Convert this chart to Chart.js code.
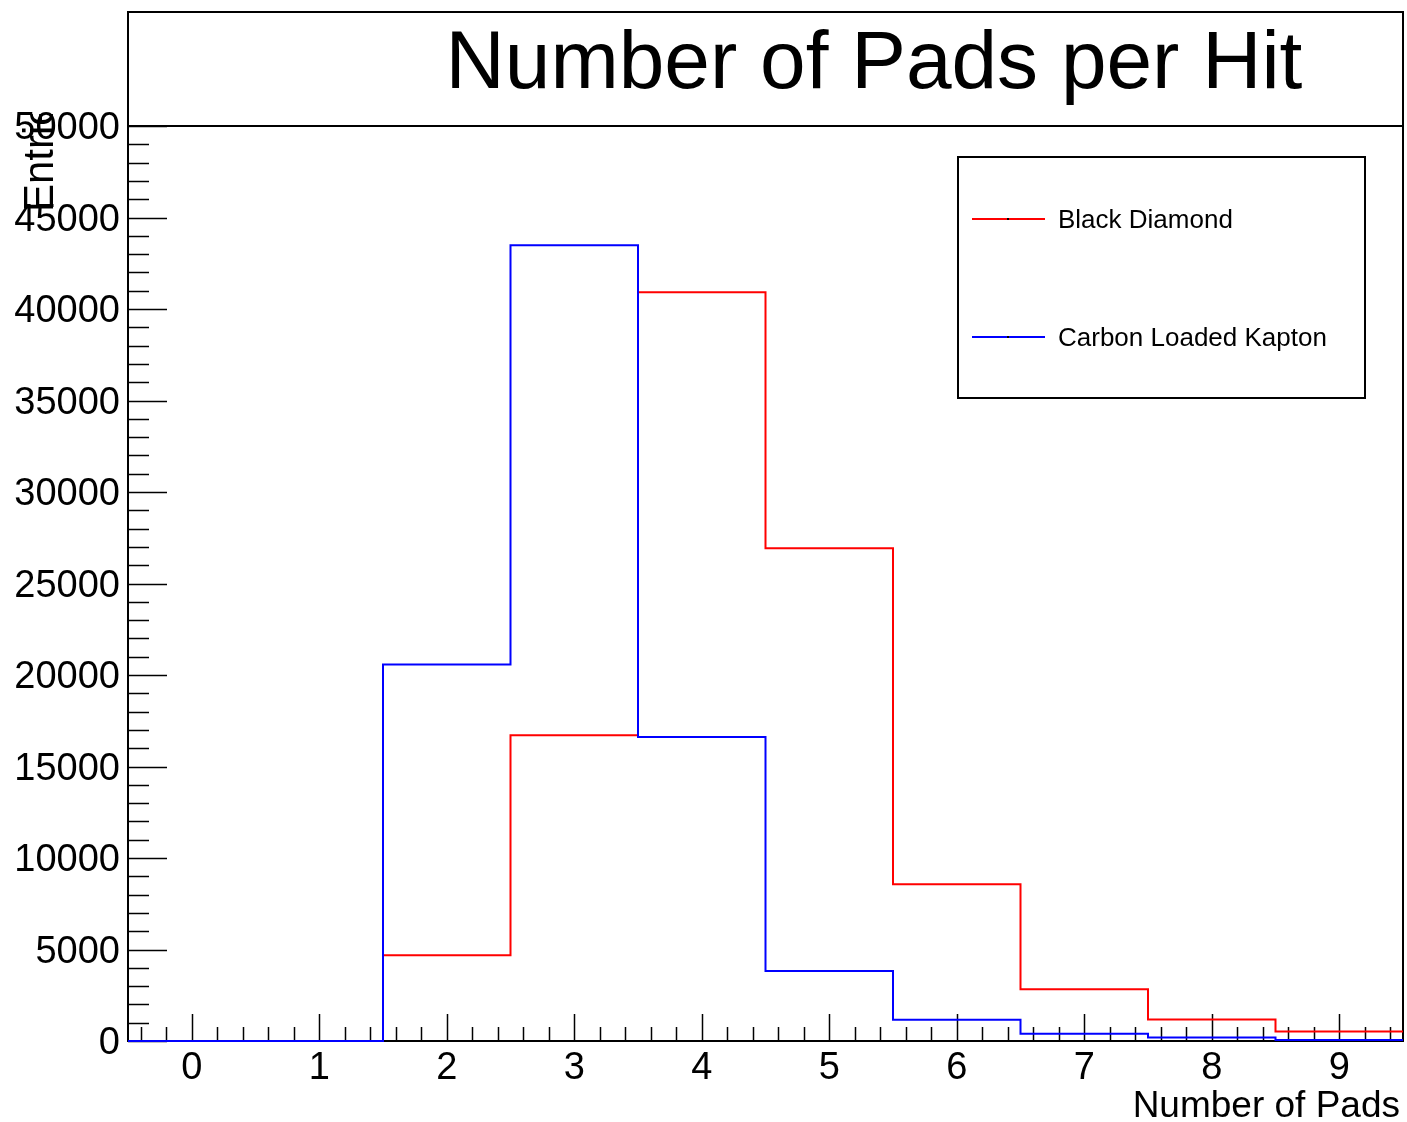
<!DOCTYPE html>
<html>
<head>
<meta charset="utf-8">
<title>Number of Pads per Hit</title>
<script src="https://cdn.jsdelivr.net/npm/chart.js@4.4.0/dist/chart.umd.min.js"></script>
<style>
  html, body { margin: 0; padding: 0; background: #fff; }
</style>
</head>
<body>
<canvas id="grafico" width="1407" height="1122"></canvas>
<script>
// Dados do histograma (bins centrados nos inteiros)
const bins = [0, 1, 2, 3, 4, 5, 6, 7, 8, 9];
const blackDiamond = [0, 0, 4680, 16710, 40910, 26920, 8560, 2830, 1180, 520];
const carbonKapton = [0, 0, 20580, 43480, 16610, 3820, 1160, 400, 190, 60];
const yTicks = [0, 5000, 10000, 15000, 20000, 25000, 30000, 35000, 40000, 45000, 50000];
const xTicks = [0, 1, 2, 3, 4, 5, 6, 7, 8, 9];

const fonte = '"Liberation Sans", Arial, Helvetica, sans-serif';

// Converte os valores em pontos nas bordas esquerdas dos bins (+ borda final)
function histograma(valores) {
  const pts = bins.map((b, i) => ({ x: b - 0.5, y: valores[i] }));
  pts.push({ x: bins[bins.length - 1] + 0.5, y: valores[valores.length - 1] });
  return pts;
}

// Moldura, ticks internos (estilo ROOT), título, legenda
const moldura = {
  id: "moldura",
  beforeDatasetsDraw(chart) {
    const { ctx, chartArea: a, scales: { x, y } } = chart;
    ctx.save();
    ctx.strokeStyle = "#000";
    ctx.lineWidth = 2;
    ctx.strokeRect(a.left, a.top, a.right - a.left, a.bottom - a.top);

    ctx.lineWidth = 1.5;
    ctx.beginPath();
    for (let v = 0; v <= 50000; v += 1000) {
      const py = Math.round(y.getPixelForValue(v)) + 0.5;
      const len = v % 5000 === 0 ? 39 : 21;
      ctx.moveTo(a.left, py);
      ctx.lineTo(a.left + len, py);
    }
    for (let k = -2; k <= 47; k++) {
      const px = Math.round(x.getPixelForValue(k / 5)) + 0.5;
      const len = k % 5 === 0 ? 27 : 14;
      ctx.moveTo(px, a.bottom);
      ctx.lineTo(px, a.bottom - len);
    }
    ctx.stroke();
    ctx.restore();
  },
  afterDraw(chart) {
    const { ctx, chartArea: a } = chart;
    ctx.save();

    // caixa do título
    ctx.strokeStyle = "#000";
    ctx.lineWidth = 2;
    ctx.strokeRect(a.left, 12, a.right - a.left, a.top - 12);
    ctx.fillStyle = "#000";
    ctx.font = "82px " + fonte;
    ctx.textAlign = "center";
    ctx.textBaseline = "alphabetic";
    ctx.fillText("Number of Pads per Hit", 874, 88);

    // legenda
    ctx.fillStyle = "#fff";
    ctx.fillRect(958, 157, 407, 241);
    ctx.strokeRect(958, 157, 407, 241);
    const itens = [
      { nome: "Black Diamond", cor: "#ff0000", y: 219 },
      { nome: "Carbon Loaded Kapton", cor: "#0000ff", y: 337 }
    ];
    ctx.font = "26px " + fonte;
    ctx.textAlign = "left";
    ctx.textBaseline = "middle";
    itens.forEach(it => {
      ctx.strokeStyle = it.cor;
      ctx.lineWidth = 2;
      ctx.beginPath();
      ctx.moveTo(972, it.y);
      ctx.lineTo(1045, it.y);
      ctx.stroke();
      ctx.fillStyle = "#000";
      ctx.fillRect(1007, it.y - 1, 2, 2);
      ctx.fillText(it.nome, 1058, it.y + 2);
    });

    // título do eixo x
    ctx.font = "37px " + fonte;
    ctx.textAlign = "right";
    ctx.textBaseline = "alphabetic";
    ctx.fillText("Number of Pads", 1400, 1117);

    // título do eixo y (cortado no topo como no original)
    ctx.beginPath();
    ctx.rect(0, 114, a.left, 1000);
    ctx.clip();
    ctx.translate(53, 212);
    ctx.rotate(-Math.PI / 2);
    ctx.font = "42px " + fonte;
    ctx.textAlign = "left";
    ctx.fillText("Entries", 0, 0);
    ctx.restore();
  }
};

new Chart(document.getElementById("grafico"), {
  type: "line",
  data: {
    datasets: [
      {
        label: "Black Diamond",
        data: histograma(blackDiamond),
        borderColor: "#ff0000",
        borderWidth: 2,
        stepped: "before",
        pointRadius: 0,
        fill: false,
        clip: 4,
        order: 1
      },
      {
        label: "Carbon Loaded Kapton",
        data: histograma(carbonKapton),
        borderColor: "#0000ff",
        borderWidth: 2,
        stepped: "before",
        pointRadius: 0,
        fill: false,
        clip: 4,
        order: 0
      }
    ]
  },
  options: {
    responsive: false,
    devicePixelRatio: 1,
    animation: false,
    layout: { padding: { top: 126, right: 4, left: 0, bottom: 0 } },
    plugins: {
      legend: { display: false },
      tooltip: { enabled: false },
      title: { display: false }
    },
    scales: {
      x: {
        type: "linear",
        min: -0.5,
        max: 9.5,
        grid: { display: false, drawTicks: false },
        border: { display: false },
        afterBuildTicks: s => { s.ticks = xTicks.map(v => ({ value: v })); },
        afterFit: s => { s.height = 81; },
        ticks: {
          color: "#000",
          font: { family: fonte, size: 38 },
          padding: 5,
          maxRotation: 0,
          autoSkip: false,
          callback: v => String(v)
        }
      },
      y: {
        type: "linear",
        min: 0,
        max: 50000,
        grid: { display: false, drawTicks: false },
        border: { display: false },
        afterBuildTicks: s => { s.ticks = yTicks.map(v => ({ value: v })); },
        afterFit: s => { s.width = 128; },
        ticks: {
          color: "#000",
          font: { family: fonte, size: 38 },
          padding: 8,
          labelOffset: 3,
          callback: v => String(v)
        }
      }
    }
  },
  plugins: [moldura]
});
</script>
</body>
</html>
